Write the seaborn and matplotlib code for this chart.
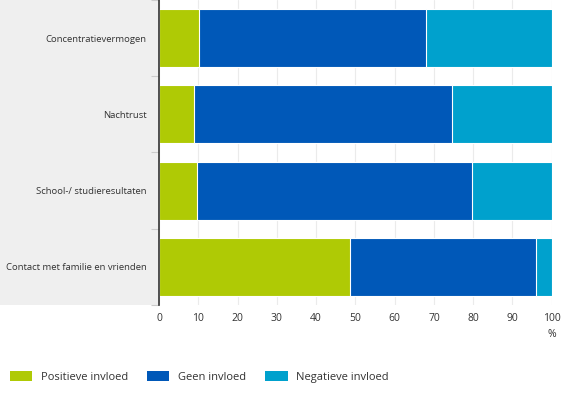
import pandas as pd
import numpy as np
import seaborn as sns
import matplotlib.pyplot as plt
from matplotlib.patches import Rectangle, Patch

categories = ['Concentratievermogen', 'Nachtrust', 'School-/ studieresultaten',
              'Contact met familie en vrienden']
positief = [10.3, 8.9, 9.6, 48.6]
geen = [57.6, 65.7, 70.2, 47.5]
negatief = [32.1, 25.4, 20.2, 3.9]
series_names = ['Positieve invloed', 'Geen invloed', 'Negatieve invloed']
colors = ['#afca05', '#0058b8', '#00a1cd']

sns.set_theme(style='white')
plt.rcParams['font.family'] = ['Open Sans', 'DejaVu Sans']

df = pd.DataFrame({'cat': categories, 'pos': positief, 'geen': geen, 'neg': negatief})
df['c1'] = df['pos']
df['c2'] = df['pos'] + df['geen']
df['c3'] = df['c2'] + df['neg']

fig = plt.figure(figsize=(5.7, 3.95), dpi=100)
# grey label panel behind the axes
fig.patches.append(Rectangle((0, 0.228), 0.279, 0.772, transform=fig.transFigure,
                             facecolor='#efefef', edgecolor='none', zorder=-5))
ax = fig.add_axes([0.279, 0.228, 0.689, 0.772])
ax.set_facecolor('white')

for col, c in zip(['c3', 'c2', 'c1'], colors[::-1]):
    sns.barplot(data=df, x=col, y='cat', color=c, ax=ax, width=0.76,
                edgecolor='white', linewidth=0.8, saturation=1, zorder=3)

ax.set_xlim(0, 100)
ax.set_ylim(3.5, -0.5)
ax.set_xticks(np.arange(0, 101, 10))
ax.set_xlabel('')
ax.set_ylabel('')
ax.xaxis.grid(True, color='#ebebeb', linewidth=0.8, zorder=0)
ax.yaxis.grid(False)
for s in ['top', 'right', 'bottom']:
    ax.spines[s].set_visible(False)
ax.spines['left'].set_color('#333333')
ax.spines['left'].set_linewidth(1.2)
ax.spines['left'].set_zorder(5)

ax.tick_params(axis='y', which='major', length=0, pad=9, labelsize=6.8, labelcolor='#333333')
ax.set_yticks(np.arange(-0.5, 3.6, 1), minor=True)
ax.tick_params(axis='y', which='minor', length=6, width=0.8, color='#cccccc', left=True)
ax.tick_params(axis='x', length=0, pad=6, labelsize=7.5, labelcolor='#333333')

fig.text(0.968, 0.152, '%', ha='center', va='center', fontsize=7.5, color='#333333')

handles = [Patch(facecolor=c, edgecolor='none') for c in colors]
fig.legend(handles, series_names, loc='center left', bbox_to_anchor=(0.0, 0.045),
           ncol=3, frameon=False, fontsize=8, handlelength=2.0, handleheight=0.95,
           handletextpad=0.8, columnspacing=1.7, labelcolor='#333333')

fig.savefig('out.png', dpi=100)
